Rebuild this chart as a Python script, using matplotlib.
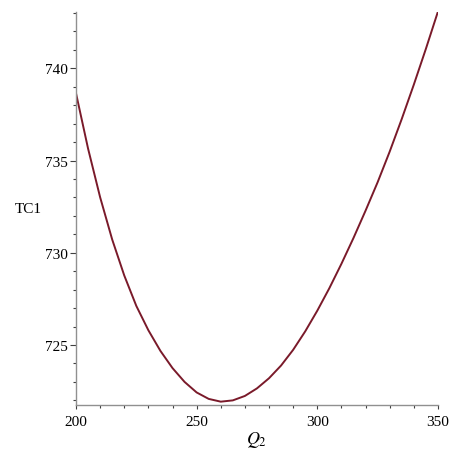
import numpy as np
import matplotlib
matplotlib.use("Agg")
import matplotlib.pyplot as plt
from matplotlib.ticker import MultipleLocator


# Valeurs.

q2 = [200, 205, 210, 215, 220, 225, 230, 235, 240, 245, 250, 255, 260,
      265, 270, 275, 280, 285, 290, 295, 300, 305, 310, 315, 320, 325,
      330, 335, 340, 345, 350]
tc1 = [738.65, 735.65, 733.01, 730.72, 728.77, 727.12, 725.80, 724.68,
       723.75, 723.00, 722.43, 722.08, 721.93, 722.00, 722.24, 722.65,
       723.20, 723.89, 724.74, 725.74, 726.86, 728.08, 729.40, 730.80,
       732.28, 733.82, 735.48, 737.25, 739.11, 741.05, 743.07]

xticks = [200, 250, 300, 350]
yticks = [725, 730, 735, 740]


# Figure.

plt.rcParams['font.family'] = ['Liberation Serif', 'DejaVu Serif']
plt.rcParams['mathtext.fontset'] = 'stix'

fig = plt.figure(figsize=(4.51, 4.52), dpi=100)
ax = fig.add_axes([0.1685, 0.1018, 0.8025, 0.8694])

ax.plot(q2, tc1, color='#7a1a2a', linewidth=1.4)

ax.set_xlim(200, 350)
ax.set_ylim(721.75, 743.05)

ax.set_xticks(xticks)
ax.set_yticks(yticks)
ax.xaxis.set_minor_locator(MultipleLocator(10))
ax.yaxis.set_minor_locator(MultipleLocator(1))

for side in ['top', 'right']:
    ax.spines[side].set_visible(False)
for side in ['left', 'bottom']:
    ax.spines[side].set_color('#909090')
    ax.spines[side].set_linewidth(1.0)

ax.tick_params(axis='both', which='both', direction='out', colors='#404040',
               labelcolor='black', labelsize=11, width=0.8)
ax.tick_params(axis='x', which='major', length=3, pad=4)
ax.tick_params(axis='x', which='minor', length=2)
ax.tick_params(axis='y', which='major', length=4, pad=2)
ax.tick_params(axis='y', which='minor', length=2)

ax.set_xlabel('$Q_2$', fontsize=13, labelpad=1)
ax.set_ylabel('TC1', fontsize=11, rotation=0, labelpad=12, va='center')

fig.savefig('out.png', dpi=100)
